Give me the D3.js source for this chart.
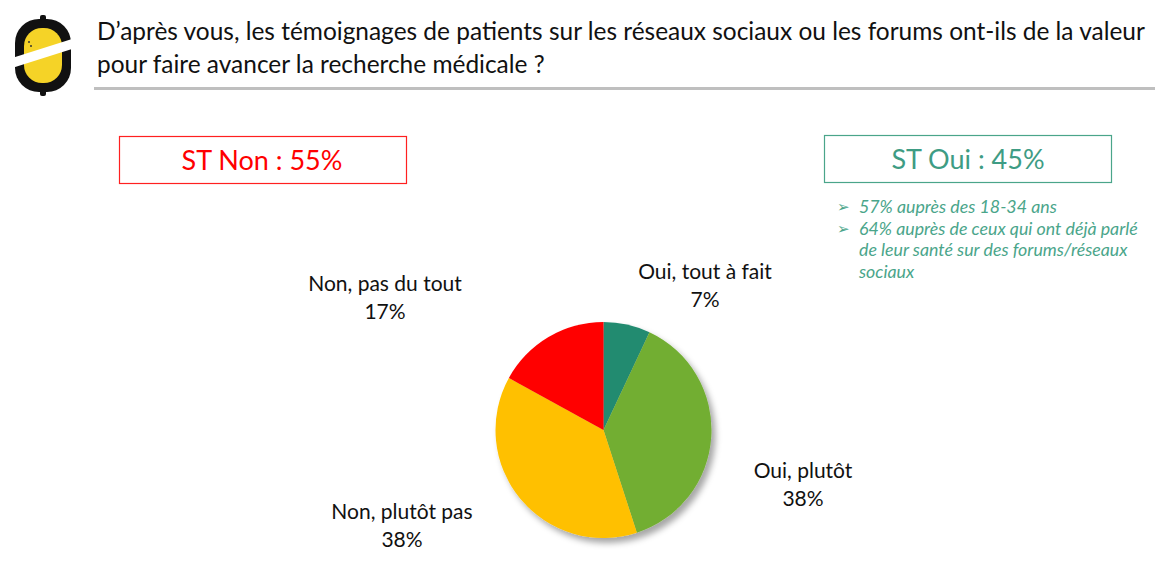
<!DOCTYPE html>
<html><head><meta charset="utf-8">
<script src="https://cdn.jsdelivr.net/npm/d3@7"></script>
<style>body{margin:0;background:#fff}svg{display:block}text{font-family:Lato,"Open Sans",sans-serif}</style>
</head><body>
<svg id="c" width="1155" height="570"></svg>
<script>
const categories = ["Oui, tout à fait", "Oui, plutôt", "Non, plutôt pas", "Non, pas du tout"];
const values = [7, 38, 38, 17];
const colors = ["#238B70", "#72AE32", "#FFC000", "#FF0000"];
const titleLines = ["D’après vous, les témoignages de patients sur les réseaux sociaux ou les forums ont-ils de la valeur", "pour faire avancer la recherche médicale ?"];
const summaryNon = "ST Non : 55%";
const summaryOui = "ST Oui : 45%";
const notes = ["57% auprès des 18-34 ans", "64% auprès de ceux qui ont déjà parlé", "de leur santé sur des forums/réseaux", "sociaux"];
const noteBullets = [true, true, false, false];
const labelPos = [[705, 279], [803, 478], [402, 519], [385, 291]];

const svg = d3.select("#c");
const defs = svg.append("defs");
const f = defs.append("filter").attr("id","sh").attr("x","-20%").attr("y","-20%").attr("width","150%").attr("height","150%");
f.append("feDropShadow").attr("dx",4).attr("dy",5).attr("stdDeviation",3).attr("flood-color","#000").attr("flood-opacity",0.35);

// logo
const logo = svg.append("g");
logo.append("rect").attr("x",15).attr("y",19).attr("width",56).attr("height",73).attr("rx",24).attr("fill","#111");
logo.append("rect").attr("x",40).attr("y",15).attr("width",6).attr("height",6).attr("rx",2).attr("fill","#111");
logo.append("rect").attr("x",40).attr("y",90).attr("width",6).attr("height",6).attr("rx",2).attr("fill","#111");
logo.append("rect").attr("x",24).attr("y",28).attr("width",38).attr("height",55).attr("rx",18).attr("fill","#F5D327");
logo.append("path").attr("d","M12,58 L72,39 L72,49 L12,68 Z").attr("fill","#fff");
logo.append("circle").attr("cx",29).attr("cy",42).attr("r",1).attr("fill","#333");
logo.append("circle").attr("cx",31).attr("cy",46).attr("r",1).attr("fill","#333");

// fit helper: scale font size so text reaches a target width
function fit(sel, w){ sel.each(function(){ const n=this, fs=+n.getAttribute("font-size"); const cur=n.getComputedTextLength(); if(cur>0) n.setAttribute("font-size", (fs*w/cur).toFixed(2)); }); }

// title
const t = svg.selectAll(".title").data(titleLines).join("text").attr("class","title")
  .attr("x",97).attr("y",(d,i)=>40+i*33).attr("font-size",21).attr("fill","#111").text(d=>d);
const t0 = t.filter((d,i)=>i===0); fit(t0,1048);
t.filter((d,i)=>i===1).attr("font-size", t0.attr("font-size"));
svg.append("rect").attr("x",94).attr("y",87).attr("width",1061).attr("height",3).attr("fill","#BFBFBF");

// summary boxes
svg.append("rect").attr("x",119.5).attr("y",136.5).attr("width",287).attr("height",47).attr("fill","none").attr("stroke","#FF2020").attr("stroke-width",1.2);
svg.append("text").attr("x",262).attr("y",170).attr("text-anchor","middle").attr("font-size",27).attr("fill","#FF0000").text(summaryNon);
svg.append("rect").attr("x",824.5).attr("y",135.5).attr("width",287).attr("height",47).attr("fill","none").attr("stroke","#4AA58A").attr("stroke-width",1.2);
svg.append("text").attr("x",968).attr("y",169).attr("text-anchor","middle").attr("font-size",27).attr("fill","#3E9C84").text(summaryOui);

const nt = svg.selectAll(".note").data(notes).join("text").attr("class","note")
  .attr("x",859).attr("y",(d,i)=>213+i*21.5).attr("font-size",15).attr("font-style","italic").attr("fill","#4AA58A").text(d=>d);
const n1 = nt.filter((d,i)=>i===1); fit(n1,279);
nt.attr("font-size", n1.attr("font-size"));
svg.selectAll(".bul").data(notes.filter((d,i)=>noteBullets[i])).join("text").attr("class","bul")
  .attr("x",837).attr("y",(d,i)=>212+i*21.5).attr("font-size",15).attr("fill","#4AA58A").attr("font-family","DejaVu Sans").text("➢");

// pie
const pie = d3.pie().sort(null).value(d=>d)(values);
const arc = d3.arc().innerRadius(0).outerRadius(108);
const g = svg.append("g").attr("transform","translate(603.5,430)");
g.append("g").attr("filter","url(#sh)").selectAll("path").data(pie).join("path")
  .attr("d",arc).attr("fill",(d,i)=>colors[i]);

// labels
const lg = svg.selectAll(".lab").data(categories).join("g").attr("class","lab");
lg.append("text").attr("x",(d,i)=>labelPos[i][0]).attr("y",(d,i)=>labelPos[i][1]).attr("text-anchor","middle").attr("font-size",21).attr("fill","#111").text(d=>d);
lg.append("text").attr("x",(d,i)=>labelPos[i][0]).attr("y",(d,i)=>labelPos[i][1]+28).attr("text-anchor","middle").attr("font-size",21).attr("fill","#111").text((d,i)=>values[i]+"%");
</script>
</body></html>
